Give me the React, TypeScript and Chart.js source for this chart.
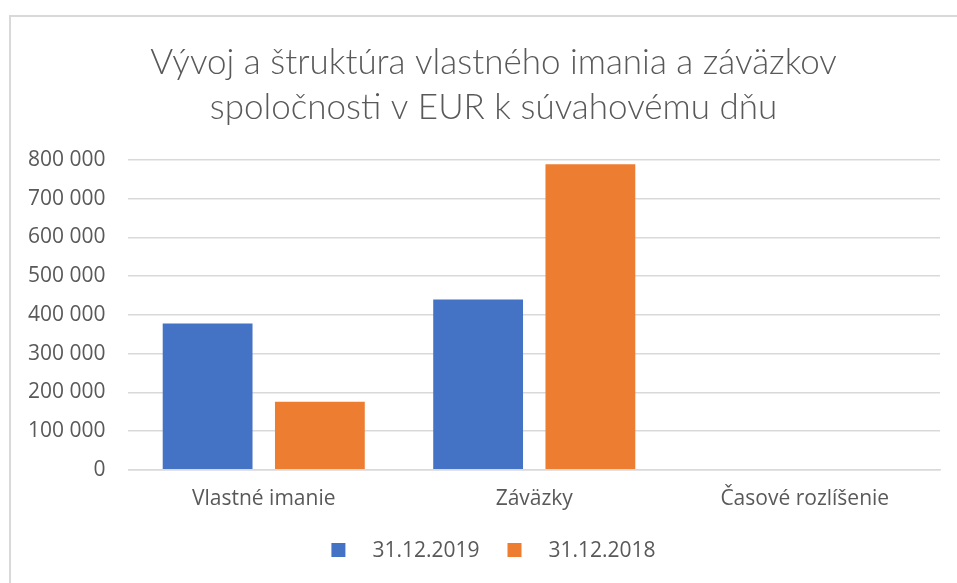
import React, { useEffect, useRef } from "react";
import { Chart, registerables } from "chart.js";

Chart.register(...registerables);

const titleLines = [
  "Vývoj a štruktúra vlastného imania a záväzkov",
  "spoločnosti v EUR k súvahovému dňu",
];
const categories = ["Vlastné imanie", "Záväzky", "Časové rozlíšenie"];
const seriesNames = ["31.12.2019", "31.12.2018"];
const values2019 = [378000, 440000, 0];
const values2018 = [176000, 789000, 0];
const yMin = 0;
const yMax = 800000;
const yStep = 100000;

const TEXT = "#595959";
const GRID = "#d9d9d9";
const FONT = "Open Sans";
const TITLE_CENTER_SHIFT = 15;

function fmt(v: number): string {
  return String(v).replace(/\B(?=(\d{3})+(?!\d))/g, " ");
}

// Excel-style legend: square, wide gap, text, wide gap between items
const excelLegend = {
  id: "excelLegend",
  afterLayout(chart: any) {
    const tb = chart.titleBlock;
    if (tb) {
      const c = chart.width / 2 + TITLE_CENTER_SHIFT;
      const half = Math.min(c, chart.width - c);
      tb.left = c - half;
      tb.right = c + half;
    }
  },
  afterDraw(chart: any) {
    const ctx = chart.ctx as CanvasRenderingContext2D;
    const box = 14;
    const gapText = 27;
    const gapItem = 28;
    ctx.save();
    ctx.font = `21px "${FONT}"`;
    const items = chart.data.datasets.map((d: any) => ({
      text: d.label as string,
      color: d.backgroundColor as string,
      w: ctx.measureText(d.label).width,
    }));
    let total = 0;
    items.forEach((it: any, i: number) => {
      total += box + gapText + it.w + (i < items.length - 1 ? gapItem : 0);
    });
    const cy = chart.height - 33;
    let x = (chart.width + 30) / 2 - total / 2;
    ctx.textBaseline = "middle";
    ctx.textAlign = "left";
    items.forEach((it: any) => {
      ctx.fillStyle = it.color;
      ctx.fillRect(x, cy - box / 2, box, box);
      x += box + gapText;
      ctx.fillStyle = TEXT;
      ctx.fillText(it.text, x, cy + 1);
      x += it.w + gapItem;
    });
    ctx.restore();
  },
};

export default function App() {
  const ref = useRef<HTMLCanvasElement | null>(null);

  useEffect(() => {
    document.body.style.margin = "0";
    const ctx = ref.current!.getContext("2d")!;
    const chart = new Chart(ctx, {
      type: "bar",
      data: {
        labels: categories,
        datasets: [
          {
            label: seriesNames[0],
            data: values2019,
            backgroundColor: "#4472C4",
            barPercentage: 0.8,
            categoryPercentage: 0.83,
          },
          {
            label: seriesNames[1],
            data: values2018,
            backgroundColor: "#ED7D31",
            barPercentage: 0.8,
            categoryPercentage: 0.83,
          },
        ],
      },
      plugins: [excelLegend],
      options: {
        animation: false,
        responsive: false,
        maintainAspectRatio: false,
        layout: { padding: { left: 5, right: 17, top: 0, bottom: 54 } },
        plugins: {
          tooltip: { enabled: false },
          legend: { display: false },
          title: {
            display: true,
            text: titleLines,
            color: TEXT,
            font: { family: "Lato", size: 35, weight: "300", lineHeight: 1.286 },
            padding: { top: 40, bottom: 30 },
          },
        },
        scales: {
          x: {
            grid: { display: false, drawTicks: false },
            border: { display: true, color: GRID, width: 1.5 },
            ticks: {
              color: TEXT,
              font: { family: FONT, size: 21 },
              padding: 17,
            },
          },
          y: {
            min: yMin,
            max: yMax,
            grid: { color: GRID, lineWidth: 1.5, drawTicks: false },
            border: { display: false },
            ticks: {
              stepSize: yStep,
              color: TEXT,
              font: { family: FONT, size: 21 },
              padding: 23,
              callback: (v: any) => fmt(Number(v)),
            },
          },
        },
      },
    });
    return () => chart.destroy();
  }, []);

  return (
    <div style={{ position: "relative", width: 957, height: 583, overflow: "hidden", background: "#fff" }}>
      <div
        style={{
          position: "absolute",
          left: 9,
          top: 15,
          width: 1200,
          height: 1200,
          border: "2px solid #d9d9d9",
          boxSizing: "border-box",
        }}
      />
      <canvas ref={ref} width={957} height={583} style={{ position: "absolute", left: 0, top: 0 }} />
    </div>
  );
}
